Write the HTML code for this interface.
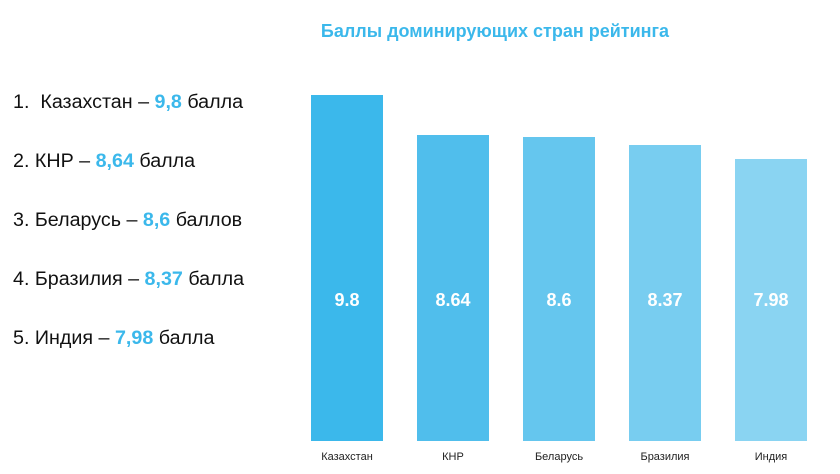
<!DOCTYPE html>
<html><head><meta charset="utf-8"><style>
body{margin:0;width:840px;height:474px;background:#fff;font-family:"Liberation Sans",sans-serif;position:relative;overflow:hidden}
.t{position:absolute;left:290px;width:410px;top:21px;text-align:center;color:#3bb8eb;font-weight:bold;font-size:18px}
.l{position:absolute;left:13px;font-size:19.7px;color:#111;white-space:nowrap}
.l b{color:#3bb8eb}
.bar{position:absolute;width:72px;bottom:33px}
.v{position:absolute;width:72px;top:290px;text-align:center;color:#fff;font-weight:bold;font-size:18px}
.x{position:absolute;width:100px;top:451px;text-align:center;font-size:11px;color:#222}
</style></head><body>
<div class="t">Баллы доминирующих стран рейтинга</div>
<div class="l" style="top:91px">1.&nbsp; Казахстан – <b>9,8</b> балла</div>
<div class="l" style="top:150px">2. КНР – <b>8,64</b> балла</div>
<div class="l" style="top:209px">3. Беларусь – <b>8,6</b> баллов</div>
<div class="l" style="top:268px">4. Бразилия – <b>8,37</b> балла</div>
<div class="l" style="top:327px">5. Индия – <b>7,98</b> балла</div>
<div class="bar" style="left:311px;top:95px;background:#3bb8eb"></div>
<div class="bar" style="left:417px;top:135px;background:#50beec"></div>
<div class="bar" style="left:523px;top:137px;background:#65c6ee"></div>
<div class="bar" style="left:629px;top:145px;background:#78cdf0"></div>
<div class="bar" style="left:735px;top:159px;background:#8ad4f2"></div>
<div class="v" style="left:311px">9.8</div>
<div class="v" style="left:417px">8.64</div>
<div class="v" style="left:523px">8.6</div>
<div class="v" style="left:629px">8.37</div>
<div class="v" style="left:735px">7.98</div>
<div class="x" style="left:297px">Казахстан</div>
<div class="x" style="left:403px">КНР</div>
<div class="x" style="left:509px">Беларусь</div>
<div class="x" style="left:615px">Бразилия</div>
<div class="x" style="left:721px">Индия</div>
</body></html>
